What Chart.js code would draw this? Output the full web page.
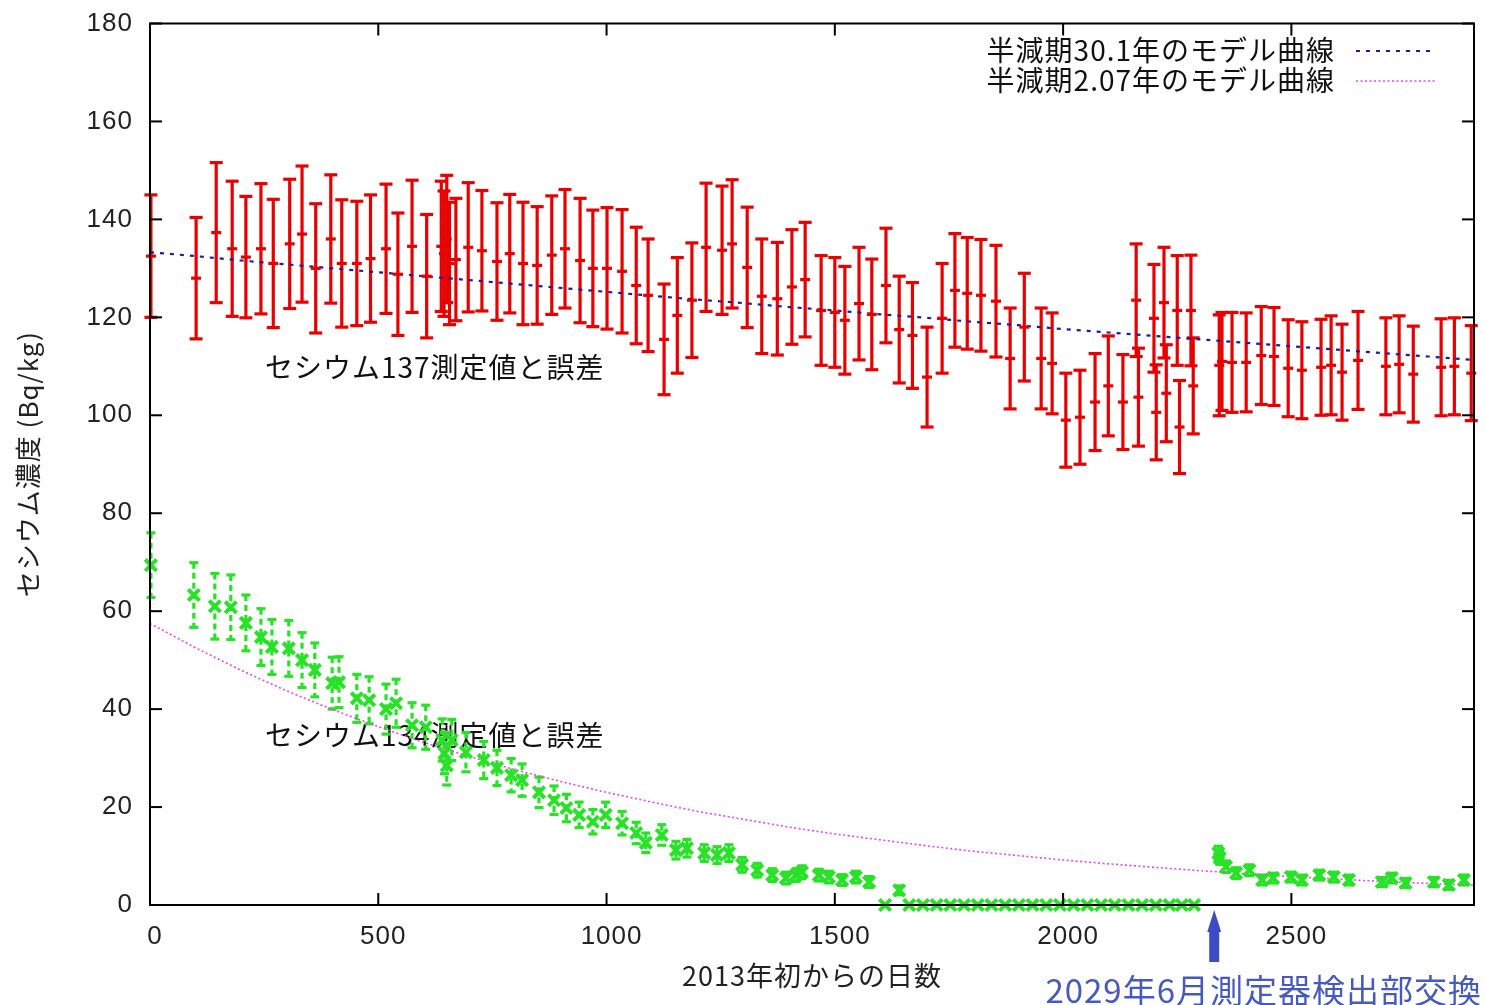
<!DOCTYPE html>
<html>
<head>
<meta charset="utf-8">
<script src="https://cdn.jsdelivr.net/npm/chart.js@4.4.0/dist/chart.umd.min.js"></script>
<style>
body { margin: 0; background: #fff; }
#wrap { width: 1486px; height: 1005px; }
</style>
</head>
<body>
<div id="wrap"><canvas id="cesiumChart" width="1486" height="1005"></canvas></div>
<script>
// Cs-137 : days since start of 2013, value and error (Bq/kg)
var days137 = [2, 101, 145, 180, 210, 243, 270, 306, 333, 363, 396, 420, 453, 483, 517, 543, 574, 606, 638, 644,
    650, 656, 670, 697, 727, 760, 788, 817, 848, 880, 909, 942, 970, 1001, 1034, 1065, 1091, 1126, 1155, 1187,
    1218, 1253, 1275, 1308, 1340, 1374, 1406, 1435, 1470, 1500, 1522, 1553, 1581, 1612, 1641, 1670, 1702, 1735, 1763, 1790,
    1820, 1853, 1884, 1915, 1952, 1976, 2006, 2037, 2070, 2099, 2131, 2160, 2165, 2199, 2204, 2221, 2226, 2250, 2255, 2280,
    2285, 2342, 2348, 2370, 2401, 2434, 2462, 2493, 2523, 2565, 2587, 2611, 2646, 2707, 2736, 2767, 2828, 2857, 2894];
var cs137 = [132.5, 128, 137.3, 134, 132.3, 134, 131, 135, 137, 130, 136, 131, 131, 132, 134, 128.8, 134.5, 128.4, 134.5, 133,
    136, 131, 131.8, 134.3, 133.6, 131.4, 133, 131, 130.6, 132.7, 134, 131.6, 130, 130, 129.4, 126.5, 124.5, 115.5, 120.4, 123.5,
    134.3, 133.7, 135, 130.2, 124.3, 123.8, 126.2, 127.7, 121.4, 121, 119.4, 122.8, 120.6, 126.5, 117.5, 116.3, 107.8, 119.8, 125.5, 124.9,
    124.5, 123.3, 111.6, 118, 111.6, 110.6, 99, 99.6, 102.7, 106, 102.7, 123.5, 103.7, 119.8, 100.6, 123, 104.5, 121.4, 97.6, 121.4,
    106, 110.2, 111, 110.8, 110.8, 112.2, 112, 109.6, 109.2, 109.8, 110.2, 108.8, 111.2, 110, 110.4, 108.4, 109.8, 110, 108.6];
var err137 = [12.5, 12.4, 14.3, 13.8, 12.4, 13.3, 13.1, 13.2, 13.9, 13.2, 13.1, 13, 12.7, 13, 13.2, 12.5, 13.5, 12.6, 13.3, 12.8,
    13, 12.5, 12.5, 13.2, 12.3, 12, 12.1, 12.5, 12, 12.1, 12.1, 12.7, 11.9, 12.4, 12.6, 11.9, 11.5, 11.3, 11.8, 11.7,
    13.1, 13.1, 13.1, 12.3, 11.7, 11.5, 11.7, 11.7, 11.2, 11.2, 11, 11.5, 11.3, 11.7, 10.9, 10.8, 10.2, 11.2, 11.6, 11.4,
    11.4, 11.4, 10.3, 11, 10.3, 10.3, 9.6, 9.6, 9.9, 10.2, 9.7, 11.5, 10, 11, 9.7, 11.3, 9.9, 11.2, 9.5, 11.3,
    9.8, 10.3, 10, 10.2, 10.1, 10, 10, 9.9, 9.9, 9.8, 10.1, 9.8, 10, 9.9, 9.9, 9.8, 9.9, 9.9, 9.7];

// Cs-134 before the detector change
var days134 = [2, 96, 142, 177, 210, 243, 267, 304, 333, 361, 399, 414, 453, 480, 517, 539, 574, 604, 640, 645,
    650, 661, 692, 731, 760, 791, 815, 852, 885, 912, 940, 970, 998, 1034, 1065, 1086, 1121, 1152, 1176, 1214,
    1242, 1268, 1297, 1330, 1363, 1393, 1415, 1428, 1465, 1487, 1516, 1546, 1575, 1610, 1641];
var cs134 = [69.4, 63.3, 61, 60.8, 57.6, 54.7, 52.7, 52.4, 50, 48, 45.3, 45.5, 42.2, 41.8, 40, 41.2, 36.7, 36.3, 33.7, 31,
    28.5, 33.7, 31.2, 29.6, 28, 26.5, 25.5, 23, 21.4, 19.8, 18.4, 17, 18.4, 16.7, 14.7, 12.7, 14.3, 11.2, 11.6, 10.6,
    10.2, 10.6, 8.2, 7.1, 6.1, 5.5, 6.1, 6.7, 6.1, 5.7, 5.1, 5.7, 4.7, 0, 3];
var err134 = [6.6, 6.6, 6.7, 6.6, 5.7, 5.8, 5.6, 5.7, 5.6, 5.5, 5.3, 5.2, 4.9, 4.8, 5.1, 4.9, 4.6, 4.5, 4.3, 4.2,
    4.0, 4.2, 4.0, 3.8, 3.6, 3.4, 3.3, 3.1, 2.9, 2.8, 2.6, 2.5, 2.6, 2.4, 2.2, 2.0, 2.1, 1.8, 1.8, 1.7,
    1.7, 1.7, 1.5, 1.4, 1.3, 1.2, 1.3, 1.3, 1.2, 1.2, 1.1, 1.2, 1.1, 0, 0.9];
// below detection limit (plotted as 0)
var daysNd134 = [1663, 1693, 1723, 1753, 1783, 1813, 1843, 1873, 1903, 1933, 1963, 1993, 2023, 2053, 2083, 2113, 2143, 2173, 2203, 2233, 2260, 2287];
var csNd134 = [0, 0, 0, 0, 0, 0, 0, 0, 0, 0, 0, 0, 0, 0, 0, 0, 0, 0, 0, 0, 0, 0];
// after the detector change
var daysNew134 = [2340, 2343, 2357, 2379, 2408, 2436, 2460, 2499, 2523, 2561, 2593, 2626, 2698, 2720, 2750, 2812, 2845, 2878];
var csNew134 = [10.6, 9.6, 7.8, 6.5, 7.1, 5.1, 5.5, 5.7, 5.1, 6.1, 5.7, 5.1, 4.7, 5.5, 4.5, 4.7, 4.1, 5.1];
var errNew134 = [1.4, 1.3, 1.2, 1.1, 1.1, 1.0, 1.0, 1.0, 1.0, 1.0, 1.0, 1.0, 0.9, 1.0, 0.9, 0.9, 0.9, 1.0];

// model curves
var modelDays = [0, 100, 200, 300, 400, 500, 600, 700, 800, 900, 1000, 1100, 1200, 1300, 1400,
    1500, 1600, 1700, 1800, 1900, 2000, 2100, 2200, 2300, 2400, 2500, 2600, 2700, 2800, 2900];
var model301 = [133.3, 132.5, 131.6, 130.8, 130.0, 129.2, 128.4, 127.6, 126.8, 126.0, 125.2, 124.4, 123.6, 122.9, 122.1,
    121.4, 120.6, 119.9, 119.1, 118.4, 117.6, 116.9, 116.2, 115.5, 114.8, 114.1, 113.4, 112.7, 112.0, 111.3];
var model207 = [57.5, 52.5, 47.9, 43.7, 39.9, 36.4, 33.2, 30.3, 27.6, 25.2, 23.0, 21.0, 19.1, 17.5, 15.9,
    14.5, 13.3, 12.1, 11.0, 10.1, 9.2, 8.4, 7.7, 7.0, 6.4, 5.8, 5.3, 4.8, 4.4, 4.0];

var xTickValues = [0, 500, 1000, 1500, 2000, 2500];
var yTickValues = [0, 20, 40, 60, 80, 100, 120, 140, 160, 180];
var legendLabels = ['半減期30.1年のモデル曲線', '半減期2.07年のモデル曲線'];
var changeDay = 2331;

var jpFont = "'Noto Sans CJK JP', sans-serif";
var numFont = "'Liberation Sans', Arial, sans-serif";
var red = 'rgb(232,0,0)';
var green = 'rgb(40,226,40)';
var blue = 'rgb(30,30,150)';
var magenta = 'rgb(230,70,230)';

var d134 = days134.concat(daysNd134, daysNew134);
var v134 = cs134.concat(csNd134, csNew134);
var e134 = err134.concat(csNd134, errNew134);

function toPoints(days, vals) {
    return days.map(function (d, i) { return { x: d, y: vals[i] }; });
}

function line(ctx, x1, y1, x2, y2) {
    ctx.beginPath();
    ctx.moveTo(x1, y1);
    ctx.lineTo(x2, y2);
    ctx.stroke();
}

function drawBars(chart, days, vals, errs, color, dash, cap) {
    var ctx = chart.ctx, xs = chart.scales.x, ys = chart.scales.y;
    ctx.save();
    ctx.strokeStyle = color;
    ctx.lineWidth = 3.2;
    days.forEach(function (d, i) {
        if (!errs[i]) return;
        var px = xs.getPixelForValue(d);
        var top = ys.getPixelForValue(vals[i] + errs[i]);
        var bot = ys.getPixelForValue(vals[i] - errs[i]);
        ctx.setLineDash(dash);
        line(ctx, px, top, px, bot);
        ctx.setLineDash([]);
        line(ctx, px - cap, top, px + cap, top);
        line(ctx, px - cap, bot, px + cap, bot);
    });
    ctx.restore();
}

var underlayPlugin = {
    id: 'underlay',
    beforeDraw: function (chart) {
        chart.ctx.letterSpacing = '1px';
    },
    beforeDatasetsDraw: function (chart) {
        var ctx = chart.ctx;
        ctx.save();
        ctx.fillStyle = '#111';
        ctx.font = '28px ' + jpFont;
        ctx.textBaseline = 'middle';
        ctx.textAlign = 'left';
        ctx.fillText('セシウム137測定値と誤差', 265, 367);
        ctx.fillText('セシウム134測定値と誤差', 265, 735);
        ctx.restore();
        drawBars(chart, days137, cs137, err137, red, [], 6.5);
        drawBars(chart, d134, v134, e134, green, [6, 4], 4.5);
    }
};

var framePlugin = {
    id: 'frame',
    afterDraw: function (chart) {
        var ctx = chart.ctx, ca = chart.chartArea, xs = chart.scales.x, ys = chart.scales.y;
        ctx.save();
        ctx.strokeStyle = '#000';
        ctx.lineWidth = 2;
        ctx.strokeRect(ca.left, ca.top, ca.right - ca.left, ca.bottom - ca.top);
        xTickValues.forEach(function (v) {
            var px = xs.getPixelForValue(v);
            line(ctx, px, ca.bottom, px, ca.bottom - 12);
            line(ctx, px, ca.top, px, ca.top + 12);
        });
        yTickValues.forEach(function (v) {
            var py = ys.getPixelForValue(v);
            line(ctx, ca.left, py, ca.left + 12, py);
            line(ctx, ca.right, py, ca.right - 12, py);
        });

        // key
        ctx.font = '28px ' + jpFont;
        ctx.fillStyle = '#111';
        ctx.textAlign = 'right';
        ctx.textBaseline = 'middle';
        ctx.fillText(legendLabels[0], 1335, 50);
        ctx.fillText(legendLabels[1], 1335, 80);
        ctx.lineWidth = 2.2;
        ctx.strokeStyle = blue;
        ctx.setLineDash([4, 6]);
        line(ctx, 1356, 51, 1436, 51);
        ctx.lineWidth = 1.6;
        ctx.strokeStyle = magenta;
        ctx.setLineDash([2, 2.5]);
        line(ctx, 1356, 81, 1436, 81);
        ctx.setLineDash([]);

        // detector change marker
        var ax = xs.getPixelForValue(changeDay);
        ctx.fillStyle = 'rgb(60,76,196)';
        ctx.beginPath();
        ctx.moveTo(ax, 910);
        ctx.lineTo(ax + 7, 932);
        ctx.lineTo(ax + 5, 932);
        ctx.lineTo(ax + 5, 962);
        ctx.lineTo(ax - 5, 962);
        ctx.lineTo(ax - 5, 932);
        ctx.lineTo(ax - 7, 932);
        ctx.closePath();
        ctx.fill();
        ctx.font = '33px ' + jpFont;
        ctx.fillStyle = 'rgb(70,90,190)';
        ctx.textAlign = 'right';
        ctx.fillText('2029年6月測定器検出部交換', 1482, 990);
        ctx.restore();
    }
};

var ctx = document.getElementById('cesiumChart').getContext('2d');
var cesiumChart = new Chart(ctx, {
    type: 'scatter',
    data: {
        datasets: [{
            label: 'Cs-137',
            data: toPoints(days137, cs137),
            pointStyle: 'line',
            pointRadius: 5,
            borderColor: red,
            backgroundColor: red,
            borderWidth: 3.2,
            clip: false
        }, {
            label: 'Cs-134',
            data: toPoints(d134, v134),
            pointStyle: 'crossRot',
            pointRadius: 8,
            borderColor: green,
            backgroundColor: green,
            borderWidth: 4,
            clip: false
        }, {
            label: legendLabels[0],
            data: toPoints(modelDays, model301),
            showLine: true,
            pointRadius: 0,
            borderColor: blue,
            borderWidth: 2.2,
            borderDash: [4, 6],
            fill: false
        }, {
            label: legendLabels[1],
            data: toPoints(modelDays, model207),
            showLine: true,
            pointRadius: 0,
            borderColor: magenta,
            borderWidth: 1.6,
            borderDash: [2, 2.5],
            fill: false
        }]
    },
    options: {
        responsive: false,
        animation: false,
        devicePixelRatio: 1,
        layout: { padding: { left: 0, right: 11, top: 23, bottom: 0 } },
        plugins: {
            legend: { display: false },
            tooltip: { enabled: false }
        },
        scales: {
            x: {
                type: 'linear',
                min: 0,
                max: 2900,
                afterBuildTicks: function (s) { s.ticks = xTickValues.map(function (v) { return { value: v }; }); },
                afterFit: function (s) { s.height = 100; },
                grid: { display: false, drawTicks: false },
                border: { display: false },
                ticks: {
                    padding: 16,
                    labelOffset: 5,
                    color: '#222',
                    font: { family: numFont, size: 26 },
                    callback: function (v) { return String(v); }
                },
                title: {
                    display: true,
                    text: '2013年初からの日数',
                    color: '#222',
                    font: { family: jpFont, size: 27 },
                    padding: { top: 0, bottom: 13 }
                }
            },
            y: {
                min: 0,
                max: 180,
                afterBuildTicks: function (s) { s.ticks = yTickValues.map(function (v) { return { value: v }; }); },
                afterFit: function (s) { s.width = 150; },
                grid: { display: false, drawTicks: false },
                border: { display: false },
                ticks: {
                    padding: 17,
                    color: '#222',
                    font: { family: numFont, size: 26, lineHeight: 0.5 },
                    callback: function (v) { return String(v); }
                },
                title: {
                    display: true,
                    text: 'セシウム濃度 (Bq/kg)',
                    color: '#222',
                    font: { family: jpFont, size: 26 },
                    padding: { top: 13, bottom: 0 }
                }
            }
        }
    },
    plugins: [underlayPlugin, framePlugin]
});
</script>
</body>
</html>
